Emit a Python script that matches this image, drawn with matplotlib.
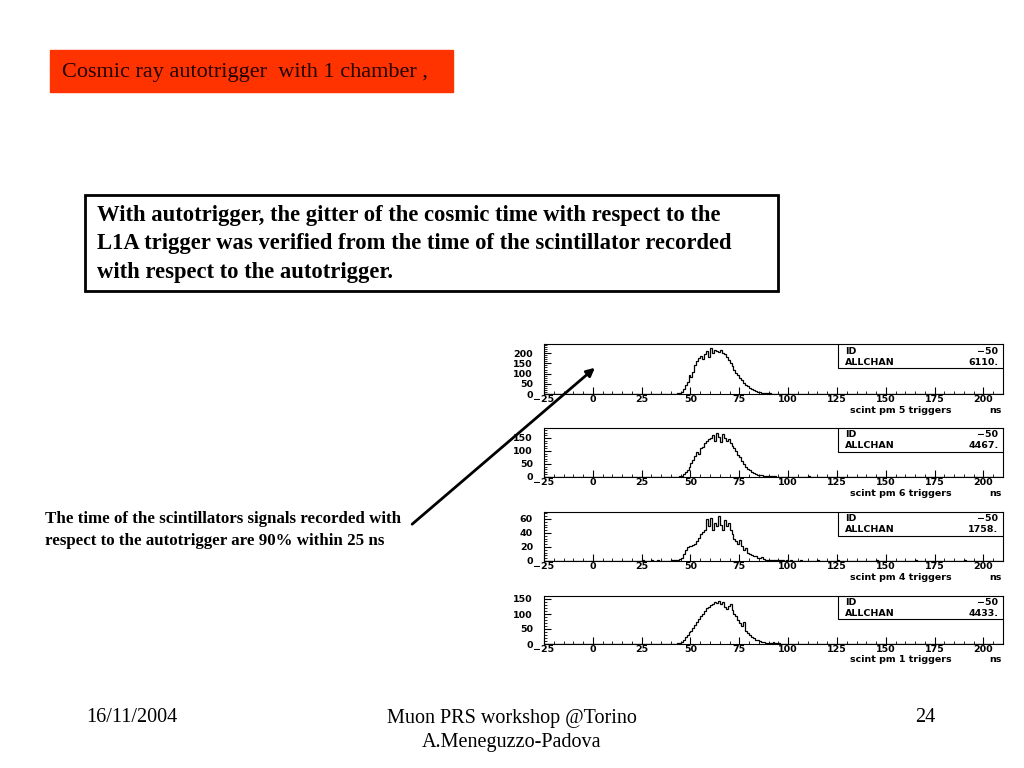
import matplotlib

matplotlib.use("Agg")
import matplotlib.pyplot as plt  # noqa: E402
import numpy as np  # noqa: E402
from matplotlib.patches import Rectangle, FancyArrowPatch  # noqa: E402

SERIF = ["Liberation Serif", "DejaVu Serif"]

# histogram range (1 ns bins), core counts start at CORE_START
X_MIN, X_MAX = -25, 210
CORE_START = 40

PM5 = [0, 1, 2, 3, 6, 12, 25, 45, 60, 95,
       85, 110, 140, 160, 175, 185, 170, 195, 210, 180,
       225, 200, 215, 210, 205, 215, 200, 195, 180, 165,
       150, 135, 120, 105, 95, 80, 68, 55, 45, 38,
       30, 24, 18, 14, 11, 9, 7, 5, 4, 4,
       3, 2, 2, 2, 1, 1, 1, 1, 0, 1]
PM6 = [0, 0, 1, 1, 2, 5, 10, 18, 28, 40,
       55, 65, 80, 95, 90, 110, 115, 130, 140, 145,
       150, 160, 140, 170, 155, 135, 165, 150, 140, 145,
       130, 120, 110, 100, 85, 75, 62, 50, 40, 32,
       25, 20, 14, 10, 8, 7, 6, 5, 4, 3,
       3, 2, 2, 2, 1, 1, 1, 1, 1, 1]
PM4 = [1, 2, 1, 2, 3, 5, 10, 16, 20, 22,
       21, 23, 25, 28, 33, 38, 42, 45, 60, 50,
       62, 45, 55, 50, 65, 52, 45, 58, 50, 55,
       45, 38, 32, 28, 25, 30, 22, 16, 18, 12,
       10, 8, 7, 7, 5, 5, 6, 3, 2, 2,
       2, 1, 2, 1, 1, 1, 2, 1, 0, 1]
PM1 = [0, 1, 1, 2, 4, 8, 15, 22, 30, 40,
       45, 55, 62, 72, 85, 95, 100, 110, 120, 125,
       130, 135, 140, 138, 145, 135, 140, 125, 118, 128,
       135, 115, 100, 95, 80, 70, 60, 75, 45, 38,
       30, 25, 20, 15, 12, 10, 8, 6, 5, 4,
       5, 3, 6, 2, 2, 2, 1, 1, 1, 1]

# sparse tail entries: (bin start in ns, count)
TAILS = {
    "5": [(-24, 1), (30, 1), (35, 1), (102, 1), (108, 1)],
    "6": [(36, 1), (103, 1), (110, 2), (118, 1), (124, 1), (131, 1), (140, 1),
          (152, 1), (160, 1), (171, 1), (183, 1), (195, 1)],
    "4": [(25, 1), (30, 1), (33, 1), (101, 1), (106, 1), (115, 1), (125, 1),
          (145, 1), (165, 1), (190, 1)],
    "1": [(20, 1), (35, 1), (103, 1), (112, 1), (125, 1), (132, 1), (150, 1),
          (176, 1), (185, 1)],
}

PANELS = ["5", "6", "4", "1"]
CORES = [PM5, PM6, PM4, PM1]
ENTRIES = ["6110.", "4467.", "1758.", "4433."]
YMAX = [245, 188, 70, 160]
YTICKS = [[0, 50, 100, 150, 200], [0, 50, 100, 150], [0, 20, 40, 60], [0, 50, 100, 150]]
# axes rectangles in figure pixels: top, bottom
AX_PIX = [(344, 394), (428, 477), (512, 561), (596, 644)]

W, H = 1024, 768
fig = plt.figure(figsize=(W / 100, H / 100), dpi=100)
fig.patch.set_facecolor("white")

# title box
fig.patches.append(Rectangle((50 / W, 1 - 92 / H), 403 / W, 42 / H,
                             transform=fig.transFigure, color="#ff3300", zorder=0))
fig.text(62 / W, 1 - 72 / H, "Cosmic ray autotrigger  with 1 chamber ,",
         family=SERIF, fontsize=16, va="center", ha="left", color="#200000")

# text box
fig.patches.append(Rectangle((85 / W, 1 - 291 / H), 693 / W, 96 / H,
                             transform=fig.transFigure, fill=False,
                             edgecolor="black", lw=2))
lines = ["With autotrigger, the gitter of the cosmic time with respect to the",
         "L1A trigger was verified from the time of the scintillator recorded",
         "with respect to the autotrigger."]
for i, line in enumerate(lines):
    fig.text(97 / W, 1 - (216 + 28 * i) / H, line, family=SERIF, fontsize=16.3,
             fontweight="bold", va="center", ha="left")

fig.text(45 / W, 1 - 519 / H, "The time of the scintillators signals recorded with",
         family=SERIF, fontsize=12.2, fontweight="bold", va="center")
fig.text(45 / W, 1 - 541 / H, "respect to the autotrigger are 90% within 25 ns",
         family=SERIF, fontsize=12.2, fontweight="bold", va="center")

FS = 6.8
edges = np.arange(X_MIN, X_MAX + 1)
for k, (name, core) in enumerate(zip(PANELS, CORES)):
    counts = np.zeros(len(edges) - 1)
    counts[CORE_START - X_MIN:CORE_START - X_MIN + len(core)] = core
    for pos, c in TAILS[name]:
        counts[pos - X_MIN] = c
    top, bot = AX_PIX[k]
    ax = fig.add_axes([544 / W, 1 - bot / H, 459 / W, (bot - top) / H])
    ax.stairs(counts, edges, color="black", lw=0.9)
    ax.set_xlim(X_MIN, X_MAX)
    ax.set_ylim(0, YMAX[k])
    ax.set_xticks(np.arange(-25, 201, 25))
    ax.set_xticks(np.arange(-25, 211, 5), minor=True)
    ax.set_yticks(YTICKS[k])
    step = YTICKS[k][1] / 5
    ax.set_yticks(np.arange(0, YMAX[k], step), minor=True)
    ax.tick_params(direction="in", labelsize=FS, length=5, width=0.8)
    ax.tick_params(axis="x", pad=1)
    ax.tick_params(axis="y", pad=8)
    ax.tick_params(which="minor", direction="in", length=2.5, width=0.6)
    ax.set_xticklabels(["\u221225"] + [str(v) for v in range(0, 201, 25)])
    for lab in ax.get_xticklabels() + ax.get_yticklabels():
        lab.set_fontweight("bold")
    for sp in ax.spines.values():
        sp.set_linewidth(0.8)
    ax.text(0.667, -0.33, f"scint pm {name} triggers", transform=ax.transAxes,
            fontsize=FS, fontweight="bold", va="center", ha="left")
    ax.text(0.998, -0.33, "ns", transform=ax.transAxes,
            fontsize=FS, fontweight="bold", va="center", ha="right")
    # stats box
    ax.add_patch(Rectangle((0.64, 0.52), 0.36, 0.48, transform=ax.transAxes,
                           facecolor="white", edgecolor="black", lw=0.8, zorder=3))
    ax.text(0.655, 0.86, "ID", transform=ax.transAxes, fontsize=FS,
            fontweight="bold", va="center", zorder=4)
    ax.text(0.99, 0.86, "\u221250", transform=ax.transAxes, fontsize=FS,
            fontweight="bold", va="center", ha="right", zorder=4)
    ax.text(0.655, 0.64, "ALLCHAN", transform=ax.transAxes, fontsize=FS,
            fontweight="bold", va="center", zorder=4)
    ax.text(0.99, 0.64, ENTRIES[k], transform=ax.transAxes, fontsize=FS,
            fontweight="bold", va="center", ha="right", zorder=4)

# arrow from the note to the top histogram
fig.patches.append(FancyArrowPatch((410 / W, 1 - 526 / H), (597 / W, 1 - 366 / H),
                                   transform=fig.transFigure, arrowstyle="-|>",
                                   mutation_scale=12, lw=2, color="black"))

# footer
FOOT = 14.5
fig.text(132 / W, 1 - 718 / H, "16/11/2004", family=SERIF, fontsize=FOOT,
         ha="center", va="center")
fig.text(512 / W, 1 - 718 / H, "Muon PRS workshop @Torino", family=SERIF,
         fontsize=FOOT, ha="center", va="center")
fig.text(512 / W, 1 - 742 / H, "A.Meneguzzo-Padova", family=SERIF,
         fontsize=FOOT, ha="center", va="center")
fig.text(925 / W, 1 - 718 / H, "24", family=SERIF, fontsize=FOOT,
         ha="center", va="center")

fig.savefig("out.png", dpi=100)
